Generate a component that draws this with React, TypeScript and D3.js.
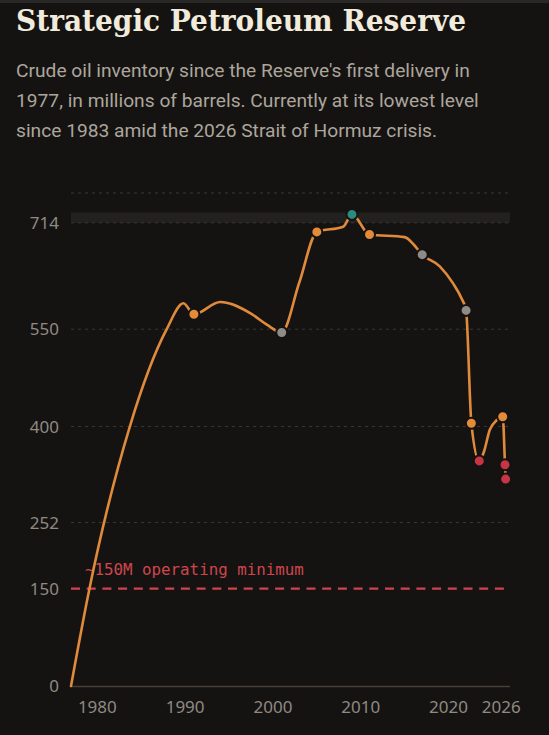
import React from "react";
import * as d3 from "d3";

// inventory, millions of barrels
const years = [
  1977, 1979.1, 1983.7, 1987.9, 1989.8,
  1991, 1994, 1997.5, 1999.3, 2001, 2003, 2005, 2008, 2009, 2011, 2015, 2016,
  2017, 2019, 2020.5, 2021.5, 2022, 2022.6, 2023.5, 2024, 2024.7, 2025.5, 2026.17,
  2026.43, 2026.5,
];
const barrels = [
  0, 150, 400, 550, 590,
  573, 592, 574, 557, 545, 622, 700, 708, 727, 696, 692, 681,
  665, 647, 621, 597, 579, 405, 347, 360, 395, 410, 415,
  341, 319,
];

// highlighted moments on the series
const markerYears = [1991, 2001, 2005, 2009, 2011, 2017, 2022, 2022.6, 2023.5, 2026.17, 2026.43, 2026.5];
const markerKinds = ["event", "low", "event", "peak", "event", "low", "low", "event", "min", "event", "min", "min"];

const xTicks = [1980, 1990, 2000, 2010, 2020, 2026];
const yTicks = [0, 150, 252, 400, 550, 714];
const gridValues = [252, 400, 550, 714, 760];
const capacity = 714;
const operatingMin = 150;

const subtitle = [
  "Crude oil inventory since the Reserve's first delivery in",
  "1977, in millions of barrels. Currently at its lowest level",
  "since 1983 amid the 2026 Strait of Hormuz crisis.",
];

const W = 549;
const H = 735;
const BG = "#151312";
const kindColor: Record<string, string> = {
  event: "#e38b38",
  low: "#8f8c87",
  peak: "#2c8a7e",
  min: "#c53543",
};

export default function App() {
  const x = d3.scaleLinear().domain([1977, 2027]).range([71, 510]);
  const y = d3.scaleLinear().domain([0, 760]).range([686, 193]);

  const points = years.map((yr, i) => [yr, barrels[i]] as [number, number]);
  const line = d3
    .line<[number, number]>()
    .x((d) => x(d[0]))
    .y((d) => y(d[1]))
    .curve(d3.curveMonotoneX);

  const markers = markerYears.map((yr, i) => ({
    yr,
    v: barrels[years.indexOf(yr)],
    kind: markerKinds[i],
  }));

  const [x0, x1] = x.range();

  return (
    <svg
      width={W}
      height={H}
      style={{ position: "absolute", left: 0, top: 0, background: BG }}
    >
      <rect width={W} height={H} fill={BG} />
      <rect width={W} height={3} fill="#292827" />

      <text
        x={16}
        y={31}
        fill="#f1ebdc"
        fontFamily="'DejaVu Serif', serif"
        fontWeight="bold"
        fontSize={30.5}
        textLength={450}
        lengthAdjust="spacingAndGlyphs"
      >
        Strategic Petroleum Reserve
      </text>
      {subtitle.map((s, i) => (
        <text
          key={i}
          x={16}
          y={77 + i * 30}
          fill="#aca69c"
          fontFamily="Roboto, sans-serif"
          fontSize={19.2}
        >
          {s}
        </text>
      ))}

      {/* design capacity band */}
      <rect
        x={x0}
        width={x1 - x0}
        y={y(730)}
        height={y(capacity) - y(730)}
        fill="#23211f"
      />

      {gridValues.map((v) => (
        <line
          key={v}
          x1={x0}
          x2={x1}
          y1={y(v)}
          y2={y(v)}
          stroke="#3a3633"
          strokeWidth={1}
          strokeDasharray="3 4"
        />
      ))}

      {/* operating minimum */}
      <line
        x1={x0}
        x2={x1}
        y1={y(operatingMin)}
        y2={y(operatingMin)}
        stroke="#d0434c"
        strokeWidth={2.2}
        strokeDasharray="9 6.7"
      />
      <text
        x={85}
        y={575}
        fill="#d0454d"
        fontFamily="'DejaVu Sans Mono', monospace"
        fontSize={15.8}
      >
        ~150M operating minimum
      </text>

      <line x1={x0 - 1} x2={x1} y1={y(0) + 0.5} y2={y(0) + 0.5} stroke="#463f38" strokeWidth={1.5} />

      {yTicks.map((v) => (
        <text
          key={v}
          x={59}
          y={y(v)}
          dy="0.36em"
          textAnchor="end"
          fill="#8f8a82"
          fontFamily="'Noto Sans', sans-serif"
          fontSize={17}
        >
          {v}
        </text>
      ))}
      {xTicks.map((t) => (
        <text
          key={t}
          x={x(t)}
          y={713}
          textAnchor="middle"
          fill="#8f8a82"
          fontFamily="'Noto Sans', sans-serif"
          fontSize={17}
        >
          {t}
        </text>
      ))}

      <path
        d={line(points) ?? ""}
        fill="none"
        stroke="#e08a3c"
        strokeWidth={2.6}
        strokeLinejoin="round"
        strokeLinecap="round"
      />

      {markers.map((m, i) => (
        <circle
          key={i}
          cx={x(m.yr)}
          cy={y(m.v)}
          r={5.5}
          fill={kindColor[m.kind]}
          stroke={BG}
          strokeWidth={2}
        />
      ))}
    </svg>
  );
}
